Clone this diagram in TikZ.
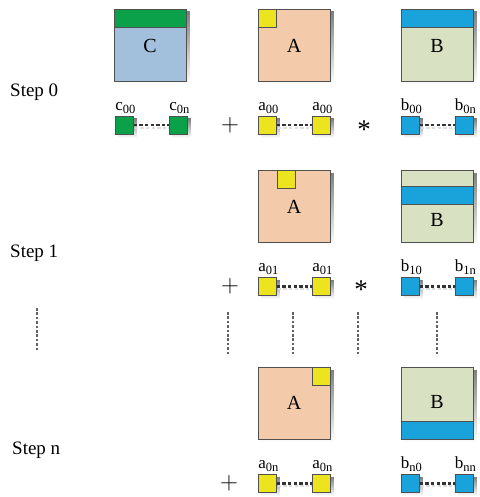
\documentclass[tikz,border=0pt]{standalone}
\usepackage{fontspec}
\setmainfont{Liberation Serif}
\usetikzlibrary{calc,backgrounds}
\definecolor{edge}{HTML}{505050}
\definecolor{shade}{HTML}{DEDEDE}
\definecolor{cfill}{HTML}{A2BFDC}
\definecolor{cband}{HTML}{0BA04A}
\definecolor{afill}{HTML}{F3CBAA}
\definecolor{acell}{HTML}{ECE41E}
\definecolor{bfill}{HTML}{D8E2C3}
\definecolor{bband}{HTML}{19A3DA}
\newcommand{\idx}[1]{{\fontsize{12.5}{12.5}\selectfont\raisebox{-3pt}{#1}}}
\begin{document}
\begin{tikzpicture}[x=1pt,y=-1pt]
\useasboundingbox (0,0) rectangle (479,497);
\tikzset{
  frame/.style={draw=edge, line width=0.8pt},
  matrixbox/.style={frame, minimum width=72pt, minimum height=72pt,
    inner sep=0pt, anchor=north west},
  cell/.style={frame, minimum width=18pt, minimum height=18pt,
    inner sep=0pt, anchor=north west},
  band/.style={frame},
  joinline/.style={draw=black!80, line width=2.2pt, dash pattern=on 3.4pt off 2.2pt},
  joinshade/.style={draw=shade, line width=2pt, dash pattern=on 3.4pt off 2.2pt},
  vdots/.style={draw=edge!90, line width=1.6pt, dash pattern=on 2.6pt off 1.8pt},
  steptext/.style={font=\fontsize{19}{19}\selectfont, anchor=base west, inner sep=0pt},
  mname/.style={font=\fontsize{20}{20}\selectfont, inner sep=0pt},
  elabel/.style={font=\fontsize{17}{17}\selectfont, anchor=south, inner sep=0pt},
  op/.style={font=\fontsize{24}{24}\selectfont, inner sep=0pt},
  star/.style={font=\fontsize{27}{27}\selectfont, inner sep=0pt},
}

% ---------- Step 0 ----------
\node[steptext] (s0) at (10,97) {Step 0};

\node[matrixbox, fill=cfill] (C0) at (114,9) {};
\draw[band, fill=cband] (114,9) rectangle (186,27);
\node[mname] (C0t) at (150,46) {C};

\node[matrixbox, fill=afill] (A0) at (258,9) {};
\draw[band, fill=acell] (258,9) rectangle (276,27);
\node[mname] (A0t) at (294,46) {A};

\node[matrixbox, fill=bfill] (B0) at (401,9) {};
\draw[band, fill=bband] (401,9) rectangle (473,27);
\node[mname] (B0t) at (437,46) {B};

\node[cell, fill=cband] (c0l) at (115,116) {};
\node[cell, fill=cband] (c0r) at (169,116) {};
\node[cell, fill=acell] (a0l) at (258,116) {};
\node[cell, fill=acell] (a0r) at (312,116) {};
\node[cell, fill=bband] (b0l) at (401,116) {};
\node[cell, fill=bband] (b0r) at (455,116) {};

\node[elabel] (lc0l) at ($(c0l.north)+(1,-2)$) {c\idx{00}};
\node[elabel] (lc0r) at ($(c0r.north)+(1,-2)$) {c\idx{0n}};
\node[elabel] (la0l) at ($(a0l.north)+(1,-2)$) {a\idx{00}};
\node[elabel] (la0r) at ($(a0r.north)+(1,-2)$) {a\idx{00}};
\node[elabel] (lb0l) at ($(b0l.north)+(1,-2)$) {b\idx{00}};
\node[elabel] (lb0r) at ($(b0r.north)+(1,-2)$) {b\idx{0n}};

\node[op] (plus0) at (230,125) {$+$};
\node[star] (times0) at (364,130) {*};

% ---------- Step 1 ----------
\node[steptext] (s1) at (10,257) {Step 1};

\node[matrixbox, fill=afill] (A1) at (258,170) {};
\draw[band, fill=acell] (277,170) rectangle (295,188);
\node[mname] (A1t) at (294,207) {A};

\node[matrixbox, fill=bfill] (B1) at (401,170) {};
\draw[band, fill=bband] (401,186) rectangle (473,204);
\node[mname] (B1t) at (437,220) {B};

\node[cell, fill=acell] (a1l) at (258,277) {};
\node[cell, fill=acell] (a1r) at (312,277) {};
\node[cell, fill=bband] (b1l) at (401,277) {};
\node[cell, fill=bband] (b1r) at (455,277) {};

\node[elabel] (la1l) at ($(a1l.north)+(1,-2)$) {a\idx{01}};
\node[elabel] (la1r) at ($(a1r.north)+(1,-2)$) {a\idx{01}};
\node[elabel] (lb1l) at ($(b1l.north)+(1,-2)$) {b\idx{10}};
\node[elabel] (lb1r) at ($(b1r.north)+(1,-2)$) {b\idx{1n}};

\node[op] (plus1) at (230,286) {$+$};
\node[star] (times1) at (361,290) {*};

% ---------- continuation dots ----------
\draw[vdots] (37,308) -- (37,351);
\draw[vdots] (228,312) -- (228,356);
\draw[vdots] (293,312) -- (293,356);
\draw[vdots] (358,312) -- (358,356);
\draw[vdots] (437,312) -- (437,356);

% ---------- Step n ----------
\node[steptext] (sn) at (12,454) {Step n};

\node[matrixbox, fill=afill] (An) at (258,367) {};
\draw[band, fill=acell] (312,367) rectangle (330,385);
\node[mname] (Ant) at (294,403) {A};

\node[matrixbox, fill=bfill] (Bn) at (401,367) {};
\draw[band, fill=bband] (401,421) rectangle (473,439);
\node[mname] (Bnt) at (437,402) {B};

\node[cell, fill=acell] (anl) at (258,474) {};
\node[cell, fill=acell] (anr) at (312,474) {};
\node[cell, fill=bband] (bnl) at (401,474) {};
\node[cell, fill=bband] (bnr) at (455,474) {};

\node[elabel] (lanl) at ($(anl.north)+(1,-2)$) {a\idx{0n}};
\node[elabel] (lanr) at ($(anr.north)+(1,-2)$) {a\idx{0n}};
\node[elabel] (lbnl) at ($(bnl.north)+(1,-2)$) {b\idx{n0}};
\node[elabel] (lbnr) at ($(bnr.north)+(1,-2)$) {b\idx{nn}};

\node[op] (plusn) at (229,483) {$+$};

% ---------- soft shadows behind boxes and links ----------
\begin{pgfonlayer}{background}
  \foreach \nd in {C0,A0,B0,A1,B1,An,Bn,c0l,c0r,a0l,a0r,b0l,b0r,a1l,a1r,b1l,b1r,anl,anr,bnl,bnr}{
    \fill[shade] ($(\nd.north west)+(3,3)$) rectangle ($(\nd.south east)+(3,3)$);
  }
  \foreach \lft/\rgt in {c0l/c0r, a0l/a0r, b0l/b0r, a1l/a1r, b1l/b1r, anl/anr, bnl/bnr}{
    \draw[joinshade] ($(\lft.east)+(1,3)$) -- ($(\rgt.west)+(1,3)$);
  }
\end{pgfonlayer}

% ---------- dashed joins between first and last element ----------
\draw[joinline] (c0l.east) -- (c0r.west);
\draw[joinline] (a0l.east) -- (a0r.west);
\draw[joinline] (b0l.east) -- (b0r.west);
\draw[joinline] (a1l.east) -- (a1r.west);
\draw[joinline] (b1l.east) -- (b1r.west);
\draw[joinline] (anl.east) -- (anr.west);
\draw[joinline] (bnl.east) -- (bnr.west);
\end{tikzpicture}
\end{document}
